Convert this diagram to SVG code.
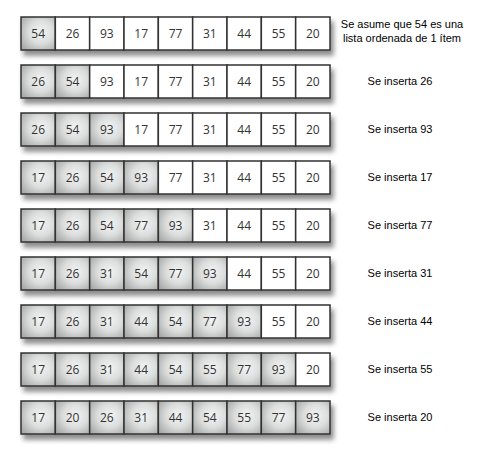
<svg xmlns="http://www.w3.org/2000/svg" width="484" height="458" viewBox="0 0 484 458">
<defs>
<radialGradient id="g" cx="0.58" cy="0.45" r="0.7">
<stop offset="0" stop-color="#f3f4f4"/>
<stop offset="0.5" stop-color="#dcdede"/>
<stop offset="1" stop-color="#a9abab"/>
</radialGradient>
<filter id="sh" x="-5%" y="-30%" width="115%" height="180%">
<feDropShadow dx="3" dy="5" stdDeviation="2.5" flood-color="#000" flood-opacity="0.45"/>
</filter>
</defs>
<style>
.row{filter:url(#sh)}
rect{stroke:#333;stroke-width:1.5;width:34.33px;height:33px}
.s{fill:url(#g)}
.u{fill:#fff}
.n{font-family:"Open Sans","DejaVu Sans",sans-serif;font-size:12px;fill:#333;text-anchor:middle}
.l{font-family:"Liberation Sans",Arial,sans-serif;font-size:11px;fill:#000;text-anchor:middle}
</style>
<rect width="484" height="458" style="fill:#fff;stroke:none;width:484px;height:458px"/>
<g id="row1">
<g class="row">
<rect class="s" x="21" y="17"/><rect class="u" x="55.33" y="17"/><rect class="u" x="89.67" y="17"/><rect class="u" x="124" y="17"/><rect class="u" x="158.33" y="17"/><rect class="u" x="192.67" y="17"/><rect class="u" x="227" y="17"/><rect class="u" x="261.33" y="17"/><rect class="u" x="295.67" y="17"/>
</g>
<g class="n"><text x="38.2" y="37.5">54</text><text x="72.5" y="37.5">26</text><text x="106.8" y="37.5">93</text><text x="141.2" y="37.5">17</text><text x="175.5" y="37.5">77</text><text x="209.8" y="37.5">31</text><text x="244.2" y="37.5">44</text><text x="278.5" y="37.5">55</text><text x="312.8" y="37.5">20</text></g>
<text class="l" x="402" y="28">Se asume que 54 es una</text>
<text class="l" x="402" y="41.5">lista ordenada de 1 ítem</text>
</g>
<g id="row2">
<g class="row">
<rect class="s" x="21" y="65"/><rect class="s" x="55.33" y="65"/><rect class="u" x="89.67" y="65"/><rect class="u" x="124" y="65"/><rect class="u" x="158.33" y="65"/><rect class="u" x="192.67" y="65"/><rect class="u" x="227" y="65"/><rect class="u" x="261.33" y="65"/><rect class="u" x="295.67" y="65"/>
</g>
<g class="n"><text x="38.2" y="85.5">26</text><text x="72.5" y="85.5">54</text><text x="106.8" y="85.5">93</text><text x="141.2" y="85.5">17</text><text x="175.5" y="85.5">77</text><text x="209.8" y="85.5">31</text><text x="244.2" y="85.5">44</text><text x="278.5" y="85.5">55</text><text x="312.8" y="85.5">20</text></g>
<text class="l" x="400" y="84.5">Se inserta 26</text>
</g>
<g id="row3">
<g class="row">
<rect class="s" x="21" y="113"/><rect class="s" x="55.33" y="113"/><rect class="s" x="89.67" y="113"/><rect class="u" x="124" y="113"/><rect class="u" x="158.33" y="113"/><rect class="u" x="192.67" y="113"/><rect class="u" x="227" y="113"/><rect class="u" x="261.33" y="113"/><rect class="u" x="295.67" y="113"/>
</g>
<g class="n"><text x="38.2" y="133.5">26</text><text x="72.5" y="133.5">54</text><text x="106.8" y="133.5">93</text><text x="141.2" y="133.5">17</text><text x="175.5" y="133.5">77</text><text x="209.8" y="133.5">31</text><text x="244.2" y="133.5">44</text><text x="278.5" y="133.5">55</text><text x="312.8" y="133.5">20</text></g>
<text class="l" x="400" y="132.5">Se inserta 93</text>
</g>
<g id="row4">
<g class="row">
<rect class="s" x="21" y="161"/><rect class="s" x="55.33" y="161"/><rect class="s" x="89.67" y="161"/><rect class="s" x="124" y="161"/><rect class="u" x="158.33" y="161"/><rect class="u" x="192.67" y="161"/><rect class="u" x="227" y="161"/><rect class="u" x="261.33" y="161"/><rect class="u" x="295.67" y="161"/>
</g>
<g class="n"><text x="38.2" y="181.5">17</text><text x="72.5" y="181.5">26</text><text x="106.8" y="181.5">54</text><text x="141.2" y="181.5">93</text><text x="175.5" y="181.5">77</text><text x="209.8" y="181.5">31</text><text x="244.2" y="181.5">44</text><text x="278.5" y="181.5">55</text><text x="312.8" y="181.5">20</text></g>
<text class="l" x="400" y="180.5">Se inserta 17</text>
</g>
<g id="row5">
<g class="row">
<rect class="s" x="21" y="209"/><rect class="s" x="55.33" y="209"/><rect class="s" x="89.67" y="209"/><rect class="s" x="124" y="209"/><rect class="s" x="158.33" y="209"/><rect class="u" x="192.67" y="209"/><rect class="u" x="227" y="209"/><rect class="u" x="261.33" y="209"/><rect class="u" x="295.67" y="209"/>
</g>
<g class="n"><text x="38.2" y="229.5">17</text><text x="72.5" y="229.5">26</text><text x="106.8" y="229.5">54</text><text x="141.2" y="229.5">77</text><text x="175.5" y="229.5">93</text><text x="209.8" y="229.5">31</text><text x="244.2" y="229.5">44</text><text x="278.5" y="229.5">55</text><text x="312.8" y="229.5">20</text></g>
<text class="l" x="400" y="228.5">Se inserta 77</text>
</g>
<g id="row6">
<g class="row">
<rect class="s" x="21" y="257"/><rect class="s" x="55.33" y="257"/><rect class="s" x="89.67" y="257"/><rect class="s" x="124" y="257"/><rect class="s" x="158.33" y="257"/><rect class="s" x="192.67" y="257"/><rect class="u" x="227" y="257"/><rect class="u" x="261.33" y="257"/><rect class="u" x="295.67" y="257"/>
</g>
<g class="n"><text x="38.2" y="277.5">17</text><text x="72.5" y="277.5">26</text><text x="106.8" y="277.5">31</text><text x="141.2" y="277.5">54</text><text x="175.5" y="277.5">77</text><text x="209.8" y="277.5">93</text><text x="244.2" y="277.5">44</text><text x="278.5" y="277.5">55</text><text x="312.8" y="277.5">20</text></g>
<text class="l" x="400" y="276.5">Se inserta 31</text>
</g>
<g id="row7">
<g class="row">
<rect class="s" x="21" y="305"/><rect class="s" x="55.33" y="305"/><rect class="s" x="89.67" y="305"/><rect class="s" x="124" y="305"/><rect class="s" x="158.33" y="305"/><rect class="s" x="192.67" y="305"/><rect class="s" x="227" y="305"/><rect class="u" x="261.33" y="305"/><rect class="u" x="295.67" y="305"/>
</g>
<g class="n"><text x="38.2" y="325.5">17</text><text x="72.5" y="325.5">26</text><text x="106.8" y="325.5">31</text><text x="141.2" y="325.5">44</text><text x="175.5" y="325.5">54</text><text x="209.8" y="325.5">77</text><text x="244.2" y="325.5">93</text><text x="278.5" y="325.5">55</text><text x="312.8" y="325.5">20</text></g>
<text class="l" x="400" y="324.5">Se inserta 44</text>
</g>
<g id="row8">
<g class="row">
<rect class="s" x="21" y="353"/><rect class="s" x="55.33" y="353"/><rect class="s" x="89.67" y="353"/><rect class="s" x="124" y="353"/><rect class="s" x="158.33" y="353"/><rect class="s" x="192.67" y="353"/><rect class="s" x="227" y="353"/><rect class="s" x="261.33" y="353"/><rect class="u" x="295.67" y="353"/>
</g>
<g class="n"><text x="38.2" y="373.5">17</text><text x="72.5" y="373.5">26</text><text x="106.8" y="373.5">31</text><text x="141.2" y="373.5">44</text><text x="175.5" y="373.5">54</text><text x="209.8" y="373.5">55</text><text x="244.2" y="373.5">77</text><text x="278.5" y="373.5">93</text><text x="312.8" y="373.5">20</text></g>
<text class="l" x="400" y="372.5">Se inserta 55</text>
</g>
<g id="row9">
<g class="row">
<rect class="s" x="21" y="401"/><rect class="s" x="55.33" y="401"/><rect class="s" x="89.67" y="401"/><rect class="s" x="124" y="401"/><rect class="s" x="158.33" y="401"/><rect class="s" x="192.67" y="401"/><rect class="s" x="227" y="401"/><rect class="s" x="261.33" y="401"/><rect class="s" x="295.67" y="401"/>
</g>
<g class="n"><text x="38.2" y="421.5">17</text><text x="72.5" y="421.5">20</text><text x="106.8" y="421.5">26</text><text x="141.2" y="421.5">31</text><text x="175.5" y="421.5">44</text><text x="209.8" y="421.5">54</text><text x="244.2" y="421.5">55</text><text x="278.5" y="421.5">77</text><text x="312.8" y="421.5">93</text></g>
<text class="l" x="400" y="420.5">Se inserta 20</text>
</g>
</svg>
